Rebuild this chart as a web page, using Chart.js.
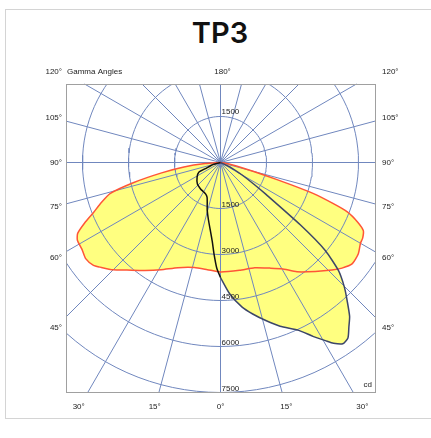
<!DOCTYPE html>
<html>
<head>
<meta charset="utf-8">
<script src="https://cdn.jsdelivr.net/npm/chart.js@4/dist/chart.umd.min.js"></script>
<style>
  html, body { margin: 0; padding: 0; background: #fff; }
  #wrap { position: relative; width: 431px; height: 438px; overflow: hidden; }
  #card { position: absolute; left: 5px; top: 9px; width: 500px; height: 408px; border: 1px solid #d4d4d4; }
  #title { position: absolute; left: 0; width: 440px; top: 18px; text-align: center;
           font: 600 29px Inter, "Noto Sans", sans-serif; line-height: 29px; color: #111; }
  canvas { position: absolute; left: 0; top: 0; }
</style>
</head>
<body>
<div id="wrap">
  <div id="card"></div>
  <div id="title">TP3</div>
  <canvas id="polar" width="431" height="438"></canvas>
</div>
<script>
// Plane A (red outline) - gamma angles (deg from nadir) and intensity (cd)
const planeALeftGamma = [0, 7, 14, 22, 29, 35, 41, 45, 49, 51, 54.5, 58, 61.5, 63.6, 66, 68.5, 71, 74.3, 77, 80, 83, 86, 90];
const planeALeftCd    = [3570, 3520, 3530, 3700, 4000, 4300, 4650, 4950, 5200, 5330, 5400, 5330, 5310, 5200, 4850, 4450, 4150, 3730, 2900, 1950, 1200, 500, 0];
const planeARightGamma = [0, 10, 18, 25, 30, 35, 41, 46, 49, 52.5, 56.5, 60, 62, 64.5, 66.5, 68.7, 70, 71.5, 72.5, 74, 76, 80, 90];
const planeARightCd    = [3580, 3570, 3610, 3800, 4000, 4350, 4710, 5050, 5250, 5420, 5390, 5270, 5250, 5160, 4880, 4450, 3900, 3200, 2400, 1500, 800, 250, 0];

// Plane B (black / dark outline)
const planeBLeftGamma = [0, 2, 4, 6, 8.5, 12, 15.5, 18, 21, 25, 31, 37, 47, 58, 66, 68, 75, 90];
const planeBLeftCd    = [3750, 3450, 3000, 2580, 2240, 1900, 1620, 1400, 1220, 1140, 1100, 1080, 1030, 900, 775, 530, 250, 0];
const planeBRightGamma = [0, 4, 8.5, 12, 16, 20, 25, 28, 30.5, 32, 34, 36, 38, 40, 43, 45, 47.5, 50, 52, 55, 57, 60, 65, 90];
const planeBRightCd    = [3750, 4290, 4770, 5050, 5360, 5680, 6040, 6420, 6740, 6950, 7130, 7070, 6800, 6550, 6030, 5700, 5220, 4450, 3300, 1800, 1300, 800, 350, 0];

// Grid and labels
const ringValues = [1500, 3000, 4500, 6000, 7500];
const rayStep = 15;
const sideAngles = [105, 90, 75, 60, 45];
const bottomAngles = [-30, -15, 0, 15, 30];
const topLabels = ['120°', 'Gamma Angles', '180°', '120°'];
const unitLabel = 'cd';

// scale: 7500 cd spans 230 px
const k = 7500 / 230;
const xMin = -154.5 * k, xMax = 154.5 * k, yMin = -229.5 * k, yMax = 78.5 * k;

function toXY(g, cd, side) {
  const a = g * Math.PI / 180;
  return { x: side * cd * Math.sin(a), y: -cd * Math.cos(a) };
}
function shape(lg, lc, rg, rc) {
  const pts = [];
  for (let i = lg.length - 1; i >= 0; i--) pts.push(toXY(lg[i], lc[i], -1));
  for (let i = 1; i < rg.length; i++) pts.push(toXY(rg[i], rc[i], 1));
  return pts;
}
function half(g, c, side) {
  return g.map((v, i) => toXY(v, c[i], side));
}
// ray end on the frame edge, from the axis bounds
function rayEnd(a) {
  const d = toXY(a, 1, 1);
  const tx = d.x > 1e-9 ? xMax / d.x : d.x < -1e-9 ? xMin / d.x : Infinity;
  const ty = d.y > 1e-9 ? yMax / d.y : d.y < -1e-9 ? yMin / d.y : Infinity;
  const t = Math.min(tx, ty);
  return { x: d.x * t, y: d.y * t };
}

const yellow = 'rgb(255,255,128)';
const gridColor = 'rgb(112,135,190)';
const datasets = [];

datasets.push({ data: shape(planeALeftGamma, planeALeftCd, planeARightGamma, planeARightCd),
  fill: 'shape', backgroundColor: yellow, borderColor: 'transparent', borderWidth: 1, order: 40, tension: 0.2 });
datasets.push({ data: shape(planeBLeftGamma, planeBLeftCd, planeBRightGamma, planeBRightCd),
  fill: 'shape', backgroundColor: yellow, borderColor: 'transparent', borderWidth: 1, order: 39, tension: 0.2 });

for (let a = 0; a < 180; a += rayStep) {
  datasets.push({ data: [rayEnd(a), { x: 0, y: 0 }, rayEnd(a + 180)],
    borderColor: gridColor, borderWidth: 1, order: 20, clip: 1 });
}
ringValues.forEach(v => {
  const pts = [];
  for (let a = 0; a <= 360; a += 3) pts.push(toXY(a, v, 1));
  datasets.push({ data: pts, borderColor: gridColor, borderWidth: 1, order: 20, clip: 0 });
});

datasets.push({ data: shape(planeALeftGamma, planeALeftCd, planeARightGamma, planeARightCd),
  borderColor: 'rgb(255,85,55)', borderWidth: 1.5, order: 3, tension: 0.2 });
datasets.push({ data: half(planeBRightGamma, planeBRightCd, 1),
  borderColor: 'rgb(60,70,105)', borderWidth: 1.5, order: 2, tension: 0.2 });
datasets.push({ data: half(planeBLeftGamma, planeBLeftCd, -1),
  borderColor: '#111', borderWidth: 1.5, order: 1, tension: 0.2 });

const labelPlugin = {
  id: 'polarLabels',
  afterDraw(chart) {
    const { ctx, chartArea: a, scales: { x, y } } = chart;
    ctx.save();
    ctx.strokeStyle = '#a0a0a0';
    ctx.lineWidth = 1;
    ctx.strokeRect(a.left + 0.5, a.top + 0.5, a.width, a.height);

    ctx.font = '8px "Liberation Sans", Arial, sans-serif';
    ctx.fillStyle = '#222';
    ctx.textBaseline = 'middle';
    const spread = 1.07;
    sideAngles.forEach(g => {
      const r = g * Math.PI / 180;
      const yl = -(-xMin / Math.sin(r)) * Math.cos(r) * spread;
      const yr = -(xMax / Math.sin(r)) * Math.cos(r) * spread;
      ctx.textAlign = 'right';
      ctx.fillText(g + '°', a.left - 4, y.getPixelForValue(yl));
      ctx.textAlign = 'left';
      ctx.fillText(g + '°', a.right + 7, y.getPixelForValue(yr));
    });
    ctx.textAlign = 'center';
    bottomAngles.forEach(g => {
      const xv = Math.sign(g) * (-yMin) * Math.tan(Math.abs(g) * Math.PI / 180) * spread;
      ctx.fillText(Math.abs(g) + '°', x.getPixelForValue(xv), a.bottom + 15);
    });
    const ty = a.top - 12;
    ctx.textAlign = 'right';
    ctx.fillText(topLabels[0], a.left - 4, ty);
    ctx.textAlign = 'left';
    ctx.fillText(topLabels[1], a.left + 1, ty);
    ctx.textAlign = 'center';
    ctx.fillText(topLabels[2], x.getPixelForValue(0) + 2, ty);
    ctx.textAlign = 'left';
    ctx.fillText(topLabels[3], a.right + 7, ty);

    ctx.textBaseline = 'alphabetic';
    ctx.textAlign = 'left';
    const cx = x.getPixelForValue(0) + 1;
    ctx.fillText(String(ringValues[0]), cx, y.getPixelForValue(ringValues[0]) - 3);
    ringValues.forEach(v => ctx.fillText(String(v), cx, y.getPixelForValue(-v) - 2));
    ctx.textAlign = 'right';
    ctx.fillText(unitLabel, a.right - 3, a.bottom - 5);
    ctx.restore();
  }
};

new Chart(document.getElementById('polar'), {
  type: 'scatter',
  data: { datasets },
  options: {
    responsive: false,
    animation: false,
    events: [],
    devicePixelRatio: 1,
    layout: { padding: { left: 66, top: 84, right: 56, bottom: 46 } },
    elements: { point: { radius: 0 }, line: { borderJoinStyle: 'round' } },
    datasets: { scatter: { showLine: true } },
    scales: {
      x: { type: 'linear', min: xMin, max: xMax, display: false },
      y: { type: 'linear', min: yMin, max: yMax, display: false }
    },
    plugins: { legend: { display: false }, tooltip: { enabled: false } }
  },
  plugins: [labelPlugin]
});
</script>
</body>
</html>
